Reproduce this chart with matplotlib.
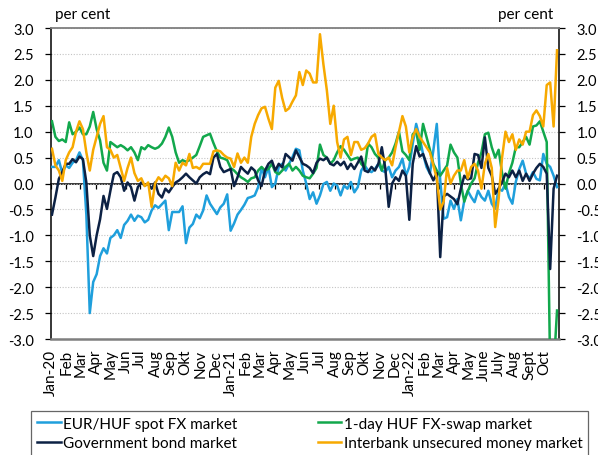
import numpy as np
import pandas as pd
import matplotlib
matplotlib.use("Agg")
import matplotlib.pyplot as plt
import matplotlib.dates as mdates

plt.rcParams['font.family'] = ['Lato', 'DejaVu Sans']
plt.rcParams['axes.unicode_minus'] = False

# Weekly observations (Fridays), Jan 2020 - Oct 2022
weeks = pd.date_range('2020-01-03', periods=148, freq='7D')

eur_huf_spot = [
    0.32, 0.32, 0.45, 0.20, 0.35, 0.30, 0.40, 0.45, 0.60, 0.45,
    -0.60, -2.50, -1.90, -1.75, -1.40, -1.25, -1.35, -1.05, -1.00, -0.90,
    -1.05, -0.80, -0.72, -0.60, -0.72, -0.62, -0.65, -0.75, -0.70, -0.52,
    -0.42, -0.47, -0.40, -0.33, -0.90, -0.55, -0.55, -0.55, -0.44, -1.15,
    -0.85, -0.78, -0.60, -0.67, -0.52, -0.23, -0.39, -0.49, -0.59, -0.46,
    -0.39, -0.21, -0.91, -0.77, -0.60, -0.51, -0.41, -0.28, -0.26, -0.23,
    -0.07, 0.30, 0.12, 0.32, -0.07, 0.00, 0.32, 0.38, 0.25, 0.38,
    0.51, 0.67, 0.64, 0.25, 0.00, -0.30, -0.17, -0.39, -0.23, -0.01,
    0.03, -0.14, 0.00, -0.04, -0.23, -0.04, -0.10, 0.03, -0.17, -0.07,
    0.25, 0.35, 0.25, 0.22, 0.28, 0.38, 0.25, 0.22, 0.32, 0.12,
    0.25, 0.32, 0.48, 0.15, 0.32, 0.77, 1.15, 0.89, 0.57, 0.32,
    0.19, 0.64, 1.15, 0.06, -0.68, -0.65, -0.33, -0.49, -0.30, -0.71,
    -0.33, -0.14, -0.26, -0.36, -0.14, -0.26, -0.33, -0.14, -0.39, -0.49,
    -0.10, -0.14, 0.00, -0.26, -0.39, 0.03, 0.28, 0.44, 0.19, 0.09,
    0.22, 0.09, 0.06, 0.57, 0.38, 0.32, 0.15, -0.07,
]

gov_bond = [
    -0.60, -0.27, 0.09, 0.22, 0.38, 0.38, 0.47, 0.41, 0.52, 0.47,
    0.02, -1.00, -1.40, -1.00, -0.69, -0.24, -0.49, -0.14, 0.18, 0.22,
    0.12, -0.14, 0.02, -0.07, -0.33, -0.07, 0.02, -0.04, -0.01, -0.10,
    0.02, -0.20, -0.27, -0.10, -0.17, -0.07, 0.02, 0.06, 0.12, 0.19,
    0.12, 0.06, 0.00, 0.12, 0.18, 0.22, 0.18, 0.50, 0.57, 0.32,
    0.22, 0.25, 0.28, -0.05, 0.12, 0.32, 0.25, 0.19, 0.31, 0.25,
    0.06, -0.05, 0.25, 0.38, 0.44, 0.25, 0.38, 0.31, 0.57, 0.51,
    0.44, 0.64, 0.51, 0.38, 0.35, 0.30, 0.20, 0.40, 0.48, 0.45,
    0.50, 0.38, 0.35, 0.42, 0.35, 0.42, 0.28, 0.38, 0.28, 0.40,
    0.52, 0.25, 0.22, 0.32, 0.25, 0.38, 0.70, 0.30, -0.45, 0.00,
    0.12, 0.05, 0.25, 0.15, -0.70, 0.38, 0.72, 0.52, 0.57, 0.38,
    0.20, 0.06, 0.20, -1.42, -0.25, -0.20, -0.25, -0.30, -0.40, -0.10,
    0.15, 0.08, 0.10, 0.57, 0.55, 0.30, 0.89, 0.30, 0.15, -0.20,
    -0.10, 0.03, 0.19, 0.12, 0.25, 0.12, 0.25, 0.05, 0.19, 0.05,
    0.19, 0.30, 0.38, 0.32, 0.19, -1.65, -0.10, 0.15,
]

fx_swap = [
    1.20, 0.90, 0.82, 0.85, 0.80, 1.18, 0.95, 1.00, 1.08, 0.95,
    0.95, 1.10, 1.38, 1.05, 0.83, 0.40, 0.25, 0.80, 0.75, 0.70,
    0.74, 0.70, 0.64, 0.70, 0.60, 0.45, 0.70, 0.66, 0.74, 0.70,
    0.67, 0.70, 0.77, 0.90, 1.08, 0.90, 0.60, 0.40, 0.45, 0.42,
    0.45, 0.50, 0.55, 0.72, 0.90, 0.93, 0.96, 0.78, 0.62, 0.50,
    0.48, 0.45, 0.30, 0.25, 0.18, 0.12, 0.08, 0.03, 0.10, 0.12,
    0.25, 0.32, 0.25, 0.28, 0.38, 0.22, 0.18, 0.25, 0.32, 0.38,
    0.25, 0.32, 0.25, 0.15, 0.12, 0.10, 0.19, 0.30, 0.75, 0.55,
    0.50, 0.38, 0.45, 0.60, 0.72, 0.65, 0.55, 0.45, 0.48, 0.50,
    0.38, 0.30, 0.77, 0.70, 0.57, 0.50, 0.25, 0.45, 0.50, 0.60,
    0.77, 1.00, 0.62, 0.55, 0.45, 0.95, 1.00, 0.65, 1.15, 0.90,
    0.65, 0.38, 0.25, 0.15, 0.25, 0.35, 0.75, 0.60, 0.50, 0.00,
    -0.35, -0.15, 0.00, 0.10, 0.40, 0.60, 0.95, 0.98, 0.70, 0.50,
    0.65, 0.20, -0.10, 0.20, 0.40, 0.70, 0.70, 0.80, 0.90, 0.75,
    1.10, 1.12, 1.20, 1.00, 0.80, -3.60, -3.60, -2.45,
]

interbank = [
    0.67, 0.35, 0.25, 0.05, 0.45, 0.60, 0.70, 1.00, 1.20, 1.05,
    0.60, 0.25, 0.65, 0.90, 1.15, 1.30, 0.70, 0.65, 0.50, 0.55,
    0.30, 0.05, 0.30, 0.50, 0.20, 0.05, 0.10, -0.05, 0.02, -0.45,
    0.00, 0.12, 0.05, 0.15, 0.10, -0.05, 0.40, 0.25, 0.40, 0.35,
    0.57, 0.30, 0.32, 0.28, 0.38, 0.38, 0.38, 0.62, 0.64, 0.62,
    0.55, 0.50, 0.48, 0.32, 0.58, 0.40, 0.50, 0.40, 0.90, 1.15,
    1.32, 1.45, 1.48, 1.25, 1.05, 1.85, 1.98, 1.65, 1.40, 1.45,
    1.58, 1.70, 2.15, 1.90, 2.18, 2.12, 1.95, 1.95, 2.88, 2.30,
    1.80, 1.15, 1.50, 0.80, 0.50, 0.85, 0.90, 0.55, 0.80, 0.80,
    0.65, 0.68, 0.77, 0.90, 0.95, 0.57, 0.50, 0.45, 0.50, 0.35,
    0.70, 1.00, 1.30, 1.10, 0.60, 0.90, 1.05, 0.90, 0.80, 0.70,
    0.60, 0.35, 0.10, -0.50, -0.35, 0.30, 0.00, 0.15, 0.25, 0.25,
    0.45, 0.10, 0.32, 0.38, 0.25, -0.10, 0.38, 0.57, 0.30, -0.84,
    -0.30, 0.50, 1.00, 0.80, 0.95, 0.65, 0.85, 0.75, 1.00, 1.00,
    1.32, 1.41, 1.30, 1.10, 1.90, 1.95, 1.10, 2.57,
]

month_labels = ['Jan-20', 'Feb', 'Mar', 'Apr', 'May', 'Jun', 'Jul', 'Aug',
                'Sep', 'Okt', 'Nov', 'Dec', 'Jan-21', 'Feb', 'Mar', 'Apr',
                'May', 'Jun', 'Jul', 'Aug', 'Sep', 'Okt', 'Nov', 'Dec',
                'Jan-22', 'Feb', 'Mar', 'Apr', 'May', 'June', 'July', 'Aug',
                'Sept', 'Oct']

series_names = ['EUR/HUF spot FX market', '1-day HUF FX-swap market',
                'Government bond market', 'Interbank unsecured money market']
colors = ['#1f9fdc', '#12a84c', '#0c2144', '#f7a900']

x = mdates.date2num(weeks)
month_starts = mdates.date2num(pd.date_range('2020-01-01', periods=len(month_labels), freq='MS'))
x_lo = mdates.date2num(pd.Timestamp('2020-01-01'))
x_hi = mdates.date2num(pd.Timestamp('2022-11-01'))

fig = plt.figure(figsize=(5.98, 4.56), dpi=100)
ax = fig.add_axes([51 / 598, 1 - 340 / 456, 508 / 598, 311 / 456])

handles = {}
for name, vals, col in zip(series_names,
                           [eur_huf_spot, fx_swap, gov_bond, interbank], colors):
    (ln,) = ax.plot(x, vals, color=col, lw=1.8, solid_joinstyle='round',
                    clip_on=True, zorder=3)
    handles[name] = ln

ax.set_xlim(x_lo, x_hi)
ax.set_ylim(-3, 3)
ax.set_yticks(np.arange(-3, 3.01, 0.5))
ax.yaxis.set_major_formatter(matplotlib.ticker.FormatStrFormatter('%.1f'))
ax.tick_params(axis='y', which='major', direction='out', length=4.5, width=0.9,
               left=True, right=True, labelleft=True, labelright=True,
               labelsize=10.5, pad=8, colors='black')
ax.yaxis.grid(True, linestyle=(0, (1, 1.5)), color='#c4c4c4', lw=0.8)
ax.set_axisbelow(True)

ax.set_xticks(month_starts)
ax.set_xticklabels(month_labels, rotation=90, fontsize=11)
ax.tick_params(axis='x', length=0, pad=7)

for side in ('left', 'right'):
    ax.spines[side].set_color('black')
    ax.spines[side].set_linewidth(1.1)
ax.spines['top'].set_color('#7f7f7f')
ax.spines['top'].set_linewidth(1.3)
ax.spines['bottom'].set_color('#7f7f7f')
ax.spines['bottom'].set_linewidth(1.8)

# Horizontal axis line at zero with monthly tick marks
zero_axis = ax.secondary_xaxis(0.5)
zero_axis.set_alignment('bottom')
zero_axis.set_xticks(month_starts)
zero_axis.set_xticklabels([])
zero_axis.tick_params(axis='x', direction='out', length=3.5, width=0.9, colors='black')
zero_axis.spines['bottom'].set_color('black')
zero_axis.spines['bottom'].set_linewidth(1.1)

fig.text(55 / 598, 1 - 15 / 456, 'per cent', ha='left', va='center', fontsize=11)
fig.text(553 / 598, 1 - 15 / 456, 'per cent', ha='right', va='center', fontsize=11)

order = [series_names[0], series_names[2], series_names[1], series_names[3]]
leg = fig.legend([handles[n] for n in order], order, ncol=2, loc='upper left',
                 bbox_to_anchor=(31 / 598, 1 - 411.5 / 456), fontsize=11,
                 frameon=True, fancybox=False, edgecolor='#404040',
                 handlelength=1.55, handletextpad=0.15, columnspacing=5.25,
                 borderaxespad=0, borderpad=0.4, labelspacing=0.37)
leg.get_frame().set_linewidth(0.9)
for ln in leg.get_lines():
    ln.set_linewidth(1.8)

fig.savefig('out.png', dpi=100)
